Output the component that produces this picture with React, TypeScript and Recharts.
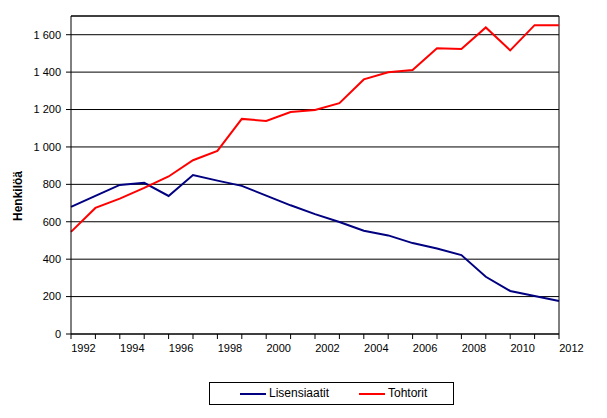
import React from "react";
import { LineChart, Line, XAxis, YAxis, CartesianGrid, ReferenceLine } from "recharts";

const years = ["1992","1993","1994","1995","1996","1997","1998","1999","2000","2001","2002","2003","2004","2005","2006","2007","2008","2009","2010","2011","2012"];
const lisensiaatit = [680, 738, 797, 808, 738, 850, 820, 792, 740, 688, 641, 599, 552, 527, 486, 457, 422, 306, 230, 203, 176];
const tohtorit = [546, 674, 724, 781, 842, 929, 979, 1150, 1139, 1187, 1198, 1234, 1361, 1399, 1411, 1527, 1523, 1639, 1516, 1651, 1651];
const yTicks = [0, 200, 400, 600, 800, 1000, 1200, 1400, 1600];

const data = years.map((y, i) => ({ year: y, Lisensiaatit: lisensiaatit[i], Tohtorit: tohtorit[i] }));

const FONT = "'Liberation Sans', Arial, sans-serif";

const fmt = (v: number) => (v >= 1000 ? `${Math.floor(v / 1000)} ${String(v % 1000).padStart(3, "0")}` : String(v));

const XTick = (props: any) => {
  const { x, y, payload, index } = props;
  if (index % 2 !== 0) return <g />;
  return (
    <text x={x + 12.5} y={y} dy="0.71em" textAnchor="middle" fontSize={11} fontFamily={FONT} fill="#000">
      {payload.value}
    </text>
  );
};

export default function App() {
  return (
    <div style={{ position: "absolute", left: 0, top: 0, width: 607, height: 418, background: "#fff" }}>
      <LineChart width={607} height={418} data={data} margin={{ top: 16, right: 48, bottom: 64, left: 0 }}>
        <CartesianGrid vertical={false} stroke="#000" strokeWidth={1} />
        <XAxis
          dataKey="year"
          interval={0}
          tick={<XTick />}
          tickSize={5}
          tickMargin={5}
          height={20}
          stroke="#000"
          axisLine={{ stroke: "#000" }}
          tickLine={{ stroke: "#000" }}
        />
        <YAxis
          domain={[0, 1700]}
          ticks={yTicks}
          tickFormatter={fmt}
          width={71}
          tickSize={5}
          tickMargin={5}
          interval={0}
          allowDataOverflow
          tick={{ fontSize: 11, fontFamily: FONT, fill: "#000" }}
          axisLine={{ stroke: "#000" }}
          tickLine={{ stroke: "#000" }}
          label={{
            content: () => (
              <text
                x={22}
                y={196}
                transform="rotate(-90 22 196)"
                textAnchor="middle"
                fontSize={12}
                fontWeight="bold"
                fontFamily={FONT}
                fill="#000"
              >
                Henkilöä
              </text>
            ),
          }}
        />
        <ReferenceLine y={1700} stroke="#000" strokeWidth={1} ifOverflow="extendDomain" />
        <ReferenceLine x="2012" stroke="#000" strokeWidth={1} />
        <Line type="linear" dataKey="Lisensiaatit" stroke="#000080" strokeWidth={2} dot={false} isAnimationActive={false} />
        <Line type="linear" dataKey="Tohtorit" stroke="#ff0000" strokeWidth={2} dot={false} isAnimationActive={false} />
      </LineChart>
      <div
        style={{
          position: "absolute",
          left: 209,
          top: 382,
          width: 245,
          height: 23,
          border: "1px solid #000",
          boxSizing: "border-box",
          fontFamily: FONT,
          fontSize: 12,
          color: "#000",
        }}
      >
        <div style={{ position: "absolute", left: 30, top: 10, width: 26, height: 2, background: "#000080" }} />
        <div style={{ position: "absolute", left: 59, top: 3, lineHeight: "14px", whiteSpace: "nowrap" }}>Lisensiaatit</div>
        <div style={{ position: "absolute", left: 149, top: 10, width: 26, height: 2, background: "#ff0000" }} />
        <div style={{ position: "absolute", left: 178, top: 3, lineHeight: "14px", whiteSpace: "nowrap" }}>Tohtorit</div>
      </div>
    </div>
  );
}
